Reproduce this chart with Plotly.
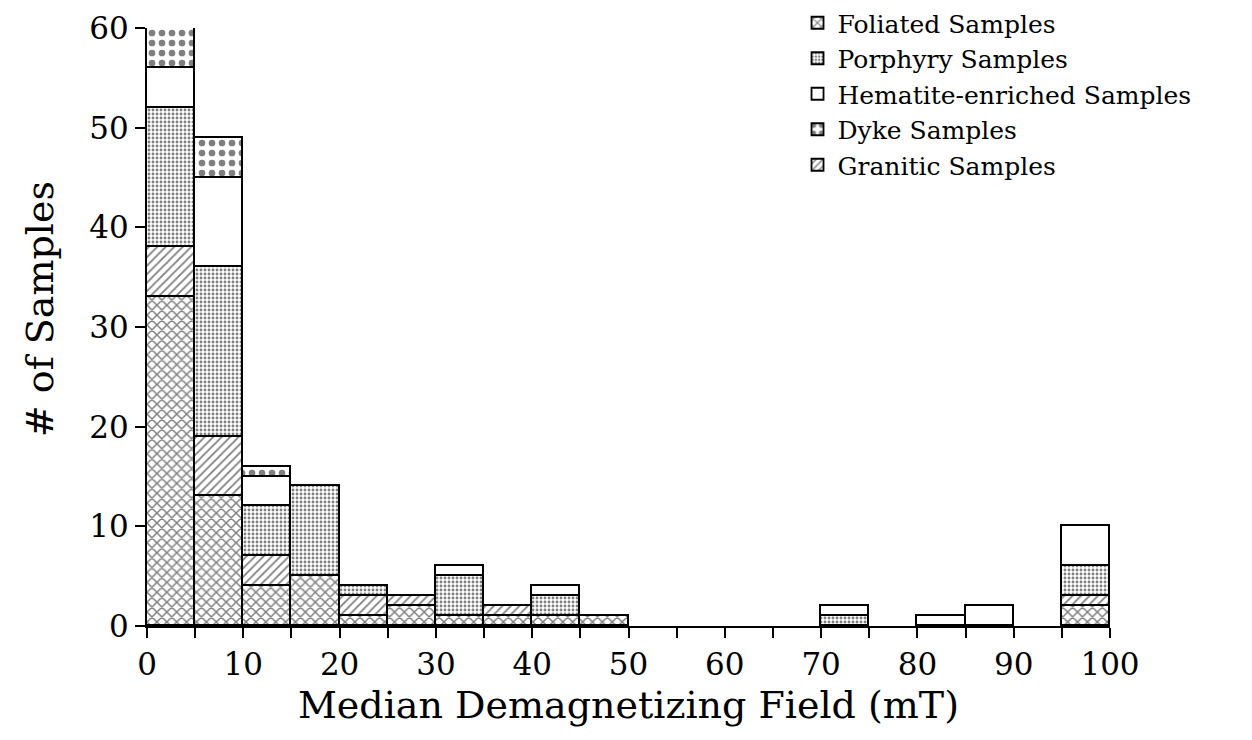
import plotly.graph_objects as go

# Histogram bins: 5 mT wide, 0-100 mT
bin_left = list(range(0, 100, 5))
bin_width = 5

# Counts per bin for each lithology (stacked bottom to top)
foliated = [33, 13, 4, 5, 1, 2, 1, 1, 1, 1, 0, 0, 0, 0, 0, 0, 0, 0, 0, 2]
granitic = [5, 6, 3, 0, 2, 1, 0, 1, 0, 0, 0, 0, 0, 0, 0, 0, 0, 0, 0, 1]
porphyry = [14, 17, 5, 9, 1, 0, 4, 0, 2, 0, 0, 0, 0, 0, 1, 0, 0, 0, 0, 3]
hematite = [4, 9, 3, 0, 0, 0, 1, 0, 1, 0, 0, 0, 0, 0, 1, 0, 1, 2, 0, 4]
dyke = [4, 4, 1, 0, 0, 0, 0, 0, 0, 0, 0, 0, 0, 0, 0, 0, 0, 0, 0, 0]

y_ticks = [0, 10, 20, 30, 40, 50, 60]
x_ticks = [0, 10, 20, 30, 40, 50, 60, 70, 80, 90, 100]

FONT = "DejaVu Serif"
centers = [b + bin_width / 2 for b in bin_left]

# (name, counts, pattern shape, pattern size, solidity, legend rank)
series = [
    ("Foliated Samples", foliated, "x", 7, 0.38, 1),
    ("Granitic Samples", granitic, "/", 6, 0.3, 5),
    ("Porphyry Samples", porphyry, ".", 4, 0.4, 2),
    ("Hematite-enriched Samples", hematite, "", 8, 0.3, 3),
    ("Dyke Samples", dyke, ".", 10, 0.35, 4),
]

fig = go.Figure()
for name, counts, shape, size, sol, rank in series:
    # empty bins are left out so they draw no outline
    ys = [c if c > 0 else None for c in counts]
    fig.add_trace(go.Bar(
        x=centers,
        y=ys,
        width=bin_width,
        name=name,
        legendrank=rank,
        marker=dict(
            color="white",
            line=dict(color="black", width=1.8),
            pattern=dict(shape=shape, fgcolor="black", bgcolor="white",
                         size=size, solidity=sol, fillmode="overlay"),
        ),
    ))

fig.update_layout(
    barmode="stack",
    bargap=0,
    width=1252,
    height=740,
    margin=dict(l=147, r=142, t=28, b=114, autoexpand=False),
    paper_bgcolor="white",
    plot_bgcolor="white",
    font=dict(family=FONT, color="black", size=31),
    legend=dict(
        xref="container", yref="container",
        x=0.637, y=1.0, xanchor="left", yanchor="top",
        font=dict(family=FONT, size=25),
        bgcolor="rgba(0,0,0,0)",
        traceorder="normal",
        tracegroupgap=0,
        itemwidth=30,
    ),
    showlegend=True,
    annotations=[dict(
        text="# of Samples", textangle=-90,
        xref="paper", yref="paper", x=-0.111, y=0.53,
        xanchor="center", yanchor="middle", showarrow=False,
        font=dict(family=FONT, size=38),
    )],
)

fig.update_xaxes(
    range=[0, 100],
    tickvals=x_ticks,
    ticks="outside", ticklen=10, tickwidth=2, tickcolor="black",
    minor=dict(dtick=5, tick0=0, ticks="outside", ticklen=10, tickwidth=2, tickcolor="black"),
    showline=True, linecolor="black", linewidth=2,
    showgrid=False, zeroline=False,
    tickfont=dict(family=FONT, size=31),
    title=dict(text="Median Demagnetizing Field (mT)", font=dict(family=FONT, size=38), standoff=10),
)
fig.update_yaxes(
    range=[0, 60],
    tickvals=y_ticks,
    ticks="outside", ticklen=10, tickwidth=2, tickcolor="black",
    showline=True, linecolor="black", linewidth=2,
    showgrid=False, zeroline=False,
    tickfont=dict(family=FONT, size=31),
)

fig.write_html("out.html")
